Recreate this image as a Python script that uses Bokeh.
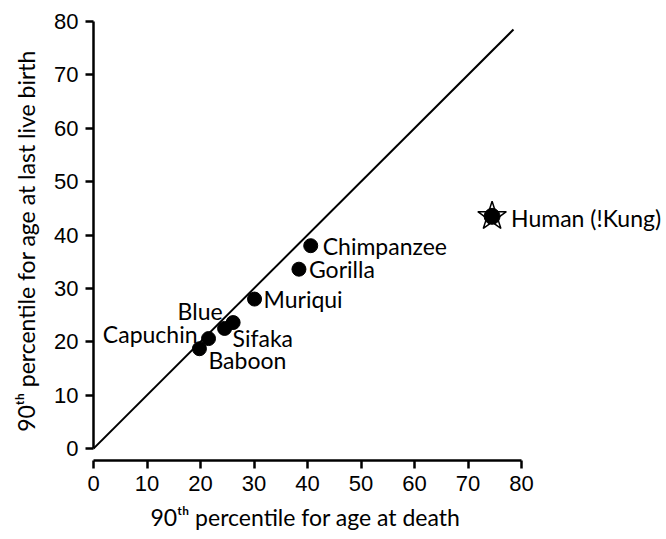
from bokeh.plotting import figure
from bokeh.models import Range1d, FixedTicker, ColumnDataSource, Title
from bokeh.core.properties import value
from bokeh.embed import file_html
from bokeh.resources import INLINE

# ---- data ----
species = ["Chimpanzee", "Gorilla", "Muriqui", "Blue", "Sifaka", "Capuchin", "Baboon"]
age_death = [40.6, 38.4, 30.1, 26.1, 24.5, 21.5, 19.8]
age_last_birth = [38.0, 33.6, 28.0, 23.6, 22.5, 20.6, 18.7]

human_label = ["Human (!Kung)"]
human_death = [74.5]
human_last_birth = [43.5]

identity_x = [0, 78.5]
identity_y = [0, 78.5]

ticks = [0, 10, 20, 30, 40, 50, 60, 70, 80]

x_title = "90ᵗʰ percentile for age at death"
y_title = "90ᵗʰ percentile for age at last live birth"

# ---- label styling (pixel offsets, alignment) ----
lab_dx = [12, 10, 9, -33, 8, -11, 9]
lab_dy = [0, 0, 0, -12, 10, -5, 11]
lab_align = ["left", "left", "left", "center", "left", "right", "left"]

LABEL_FONT = "Lato"
TICK_FONT = "Liberation Sans"

p = figure(width=666, height=537, output_backend="svg", toolbar_location=None,
           x_range=Range1d(0, 107.1), y_range=Range1d(-2.24, 80),
           min_border_left=93, min_border_right=0, min_border_top=21, min_border_bottom=75)
p.outline_line_color = None
p.xgrid.visible = False
p.ygrid.visible = False
p.background_fill_color = "white"
p.border_fill_color = "white"

for ax in (p.xaxis[0], p.yaxis[0]):
    ax.ticker = FixedTicker(ticks=ticks)
    ax.bounds = (0, 80)
    ax.axis_line_width = 2.5
    ax.axis_line_color = "black"
    ax.major_tick_line_width = 2.5
    ax.major_tick_line_color = "black"
    ax.major_tick_out = 8
    ax.major_tick_in = 0
    ax.minor_tick_line_color = None
    ax.major_label_text_font = TICK_FONT
    ax.major_label_text_font_size = "22px"
    ax.major_label_text_color = "black"
    ax.major_label_standoff = 7
    ax.axis_label_text_font = LABEL_FONT
    ax.axis_label_text_font_size = "23px"
    ax.axis_label_text_font_style = "normal"
    ax.axis_label_text_color = "black"
    ax.axis_label_standoff = 11

p.yaxis[0].axis_label = y_title

# x title placed as a left-aligned title below the axis so it centres on the 0-80 span
p.add_layout(Title(text=x_title, align="left", offset=57, standoff=14,
                   text_font=LABEL_FONT, text_font_size="23px",
                   text_font_style="normal", text_color="black"), "below")

p.line(identity_x, identity_y, line_color="black", line_width=2)

src = ColumnDataSource(dict(x=age_death, y=age_last_birth, name=species,
                            dx=lab_dx, dy=lab_dy, align=lab_align))
p.scatter("x", "y", source=src, size=14, fill_color="black", line_color="black")
p.text("x", "y", text="name", source=src, x_offset="dx", y_offset="dy",
       text_align="align", text_baseline="middle",
       text_font=value(LABEL_FONT), text_font_size="23px", text_color="black")

hsrc = ColumnDataSource(dict(x=human_death, y=human_last_birth, name=human_label))
p.scatter("x", "y", source=hsrc, marker="star", size=30, fill_color="white",
          line_color="black", line_width=1.5)
p.scatter("x", "y", source=hsrc, size=16, fill_color="black", line_color="black")
p.text("x", "y", text="name", source=hsrc, x_offset=19, y_offset=2,
       text_align="left", text_baseline="middle",
       text_font=value(LABEL_FONT), text_font_size="23px", text_color="black")

open("out.html", "w").write(file_html(p, INLINE))
